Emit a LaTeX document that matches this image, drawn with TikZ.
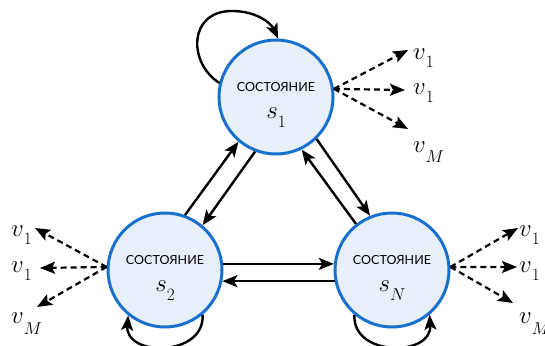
\documentclass[tikz,border=0pt]{standalone}
\usepackage{fontspec}
\newfontfamily\statefont{Lato}
\usetikzlibrary{arrows.meta}
\definecolor{stfill}{RGB}{231,239,249}
\definecolor{stdraw}{RGB}{24,112,204}
\newcommand\vlab[2]{{\fontsize{30}{30}\selectfont$v$}\raisebox{#2}{\fontsize{16}{16}\selectfont$#1$}}
\newcommand\slab[1]{{\fontsize{31}{31}\selectfont$s$}\raisebox{-9pt}{\fontsize{19}{19}\selectfont$#1$}}
\begin{document}
\begin{tikzpicture}[x=1pt,y=1pt,
  state/.style={circle, draw=stdraw, fill=stfill, line width=3pt, minimum size=114pt, inner sep=0pt},
  sttext/.style={font=\statefont\fontsize{12.5}{12.5}\selectfont, inner sep=0pt},
  svar/.style={anchor=base, inner sep=0pt},
  vvar/.style={anchor=base west, inner sep=0pt},
  arr/.style={line width=2.4pt, -{Stealth[length=15pt,width=12pt,inset=3.5pt]}},
  darr/.style={line width=2.2pt, dash pattern=on 6pt off 4pt, -{Stealth[length=15pt,width=12pt,inset=3pt]}}]
\useasboundingbox (0,0) rectangle (545,345);
\clip (0,0) rectangle (545,345);
% states
\node[state] (s1) at (276,248) {};
\node[state] (s2) at (165,75) {};
\node[state] (sN) at (392,75) {};
\node[sttext] (s1t) at ([yshift=9.5pt]s1.center) {СОСТОЯНИЕ};
\node[sttext] (s2t) at ([yshift=9.5pt]s2.center) {СОСТОЯНИЕ};
\node[sttext] (sNt) at ([yshift=9.5pt]sN.center) {СОСТОЯНИЕ};
\node[svar] (s1v) at ([yshift=-22pt]s1.center) {\slab{1}};
\node[svar] (s2v) at ([yshift=-22pt]s2.center) {\slab{2}};
\node[svar] (sNv) at ([yshift=-22pt]sN.center) {\slab{N}};
% transitions
\draw[arr] (s2.70) -- (s1.230);
\draw[arr] (s1.249) -- (s2.50);
\draw[arr] (sN.128) -- (s1.296);
\draw[arr] (s1.314) -- (sN.112);
\draw[arr] (s2.6) -- (sN.174);
\draw[arr] (sN.191) -- (s2.349);
% self loops
\draw[arr] (s1.166) .. controls (188,282) and (188,334) .. (232,334) .. controls (256,334) and (271,322) .. (s1.88);
\draw[arr] (s2.310) .. controls (205,-12) and (125,-12) .. (s2.231);
\draw[arr] (sN.230) .. controls (352,-12) and (432,-12) .. (sN.310);
% outputs s1
\coordinate (o1) at (s1.8);
\coordinate (t11) at (408,295);
\coordinate (t12) at (405,255);
\coordinate (t13) at (408,216);
\draw[darr] (o1) -- (t11);
\draw[darr] (o1) -- (t12);
\draw[darr] (o1) -- (t13);
\node[vvar] (v11) at (413,285) {\vlab{1}{-8pt}};
\node[vvar] (v12) at (413,250) {\vlab{1}{-8pt}};
\node[vvar] (v13) at (413,192) {\vlab{M}{-10pt}};
% outputs s2
\coordinate (o2) at (s2.177);
\coordinate (t21) at (35,117);
\coordinate (t22) at (40,77);
\coordinate (t23) at (37,38);
\draw[darr] (o2) -- (t21);
\draw[darr] (o2) -- (t22);
\draw[darr] (o2) -- (t23);
\node[vvar] (v21) at (11,108) {\vlab{1}{-8pt}};
\node[vvar] (v22) at (11,73) {\vlab{1}{-8pt}};
\node[vvar] (v23) at (11,22) {\vlab{M}{-11pt}};
% outputs sN
\coordinate (o3) at (sN.3);
\coordinate (t31) at (518,117);
\coordinate (t32) at (517,78);
\coordinate (t33) at (513,42);
\draw[darr] (o3) -- (t31);
\draw[darr] (o3) -- (t32);
\draw[darr] (o3) -- (t33);
\node[vvar] (v31) at (519,108) {\vlab{1}{-8pt}};
\node[vvar] (v32) at (519,73) {\vlab{1}{-8pt}};
\node[vvar] (v33) at (519,22) {\vlab{M}{-11pt}};
\end{tikzpicture}
\end{document}
